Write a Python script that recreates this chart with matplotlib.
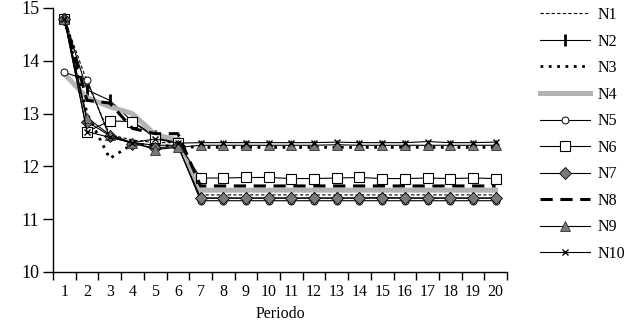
import matplotlib.pyplot as plt
from matplotlib.ticker import FixedLocator

# ── datos ─────────────────────────────────────────────────────
periodo = list(range(1, 21))

N1 = [14.80, 13.60, 12.60, 12.50, 12.45, 12.45, 11.46, 11.46, 11.46, 11.46,
      11.46, 11.46, 11.46, 11.46, 11.46, 11.46, 11.46, 11.46, 11.46, 11.46]
N2 = [14.80, 13.45, 13.25, 12.85, 12.58, 12.45, 11.40, 11.40, 11.40, 11.40,
      11.40, 11.40, 11.40, 11.40, 11.41, 11.40, 11.40, 11.40, 11.40, 11.40]
N3 = [14.80, 13.00, 12.15, 12.42, 12.40, 12.38, 12.36, 12.36, 12.36, 12.36,
      12.36, 12.36, 12.36, 12.36, 12.36, 12.36, 12.36, 12.36, 12.36, 12.36]
N4 = [13.75, 13.30, 13.13, 13.00, 12.60, 12.50, 11.55, 11.55, 11.55, 11.55,
      11.55, 11.55, 11.55, 11.55, 11.55, 11.55, 11.55, 11.55, 11.55, 11.55]
N5 = [13.78, 13.64, 12.55, 12.45, 12.40, 12.40, 11.35, 11.35, 11.35, 11.35,
      11.35, 11.35, 11.35, 11.35, 11.35, 11.35, 11.35, 11.35, 11.35, 11.35]
N6 = [14.80, 12.66, 12.86, 12.85, 12.54, 12.45, 11.78, 11.78, 11.79, 11.79,
      11.77, 11.77, 11.78, 11.79, 11.77, 11.77, 11.78, 11.77, 11.78, 11.77]
N7 = [14.80, 12.85, 12.58, 12.43, 12.35, 12.38, 11.40, 11.40, 11.40, 11.40,
      11.40, 11.40, 11.40, 11.40, 11.40, 11.40, 11.40, 11.40, 11.40, 11.40]
N8 = [14.80, 13.25, 13.20, 12.72, 12.62, 12.62, 11.63, 11.63, 11.63, 11.63,
      11.63, 11.63, 11.63, 11.63, 11.63, 11.63, 11.63, 11.63, 11.63, 11.63]
N9 = [14.80, 12.92, 12.60, 12.45, 12.32, 12.36, 12.40, 12.40, 12.40, 12.40,
      12.40, 12.40, 12.41, 12.40, 12.40, 12.40, 12.40, 12.40, 12.40, 12.40]
N10 = [14.80, 12.66, 12.55, 12.45, 12.52, 12.44, 12.45, 12.45, 12.45, 12.45,
       12.45, 12.45, 12.46, 12.45, 12.45, 12.45, 12.47, 12.45, 12.45, 12.46]

plt.rcParams['font.family'] = ['Liberation Serif', 'DejaVu Serif']

fig = plt.figure(figsize=(6.41, 3.25), dpi=100)
ax = fig.add_axes([53 / 641, 1 - 272 / 325, (507 - 53) / 641, (272 - 8) / 325])

gris = '#7a7a7a'
ax.plot(periodo, N1, color='black', lw=0.8, ls=(0, (3, 2)), label='N1')
ax.plot(periodo, N2, color='black', lw=0.8, marker='|', ms=8, mew=2, label='N2')
ax.plot(periodo, N3, color='black', lw=2.0, ls=(0, (1, 2)), label='N3')
ax.plot(periodo, N4, color='#b3b3b3', lw=3.6, label='N4')
ax.plot(periodo, N5, color='black', lw=0.8, marker='o', ms=5, mfc='white',
        mec='black', mew=0.7, label='N5')
ax.plot(periodo, N6, color='black', lw=0.8, marker='s', ms=7, mfc='white',
        mec='black', mew=0.8, label='N6')
ax.plot(periodo, N7, color='black', lw=0.8, marker='D', ms=6, mfc=gris,
        mec='black', mew=0.6, label='N7')
ax.plot(periodo, N8, color='black', lw=2.2, ls=(0, (4, 2.5)), label='N8')
ax.plot(periodo, N9, color='black', lw=0.8, marker='^', ms=7, mfc=gris,
        mec='#333333', mew=0.6, label='N9')
ax.plot(periodo, N10, color='black', lw=0.8, marker='x', ms=5, mew=1.0, label='N10')

ax.set_xlim(0.5, 20.5)
ax.set_ylim(10, 15)
ax.spines['top'].set_visible(False)
ax.spines['right'].set_visible(False)
ax.spines['left'].set_linewidth(1.0)
ax.spines['bottom'].set_linewidth(1.0)

ax.set_yticks([10, 11, 12, 13, 14, 15])
ax.tick_params(axis='y', direction='out', length=7, width=1, pad=3, labelsize=13)

# marcas entre categorías, etiquetas centradas en cada periodo
ax.xaxis.set_major_locator(FixedLocator([p - 0.5 for p in periodo] + [20.5]))
ax.xaxis.set_minor_locator(FixedLocator(periodo))
ax.tick_params(axis='x', which='major', direction='out', length=6, width=1,
               labelbottom=False)
ax.tick_params(axis='x', which='minor', length=0, pad=9, labelsize=11.5)
ax.set_xticklabels([str(p) for p in periodo], minor=True)
ax.set_xlabel('Periodo', fontsize=11.5, labelpad=4)

handles, labels = ax.get_legend_handles_labels()
fig.legend(handles, labels, loc='upper left', bbox_to_anchor=(540 / 641, 1 - 7 / 325),
           frameon=False, fontsize=11.5, handlelength=3.1, handletextpad=0.5,
           labelspacing=0.66, borderpad=0, borderaxespad=0)

fig.savefig('out.png', dpi=100)
